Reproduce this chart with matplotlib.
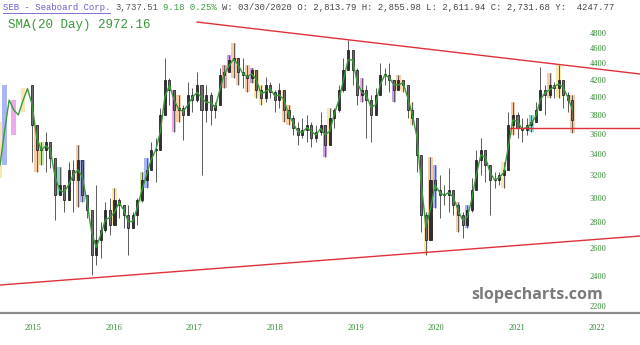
# SEB - Seaboard Corp. grafico semanal con SMA y lineas de tendencia
import numpy as np
import pandas as pd
import matplotlib.pyplot as plt
import matplotlib.dates as mdates

# Precios (maximo, minimo, cierre)
high = [3733, 4149, 4032, 3952, 3975, 4113, 4185, 3830, 3566, 3526,
        3628, 3466, 3349, 3282, 3118, 3330, 3349, 3496, 3136, 3005,
        2846, 3118, 2806, 2971, 3005, 3092, 3005, 2920, 2945, 2887,
        3005, 3236, 3368, 3526, 3566, 3885, 4481, 4233, 3998, 4032,
        3919, 4185, 4113, 4306, 3952, 4149, 4067, 3952, 4356, 4393,
        4520, 4680, 4430, 4481, 4393, 4356, 4306, 4149, 4245, 4185,
        4090, 4173, 4067, 3919, 3808, 3733, 3776, 3808, 3733, 3701,
        3841, 3670, 3885, 3885, 4149, 4481, 4718, 4559, 4356, 4233,
        4149, 4032, 4113, 4418, 4356, 4418, 4185, 4269, 4185, 4032,
        3952, 3733, 3273, 2887, 3378, 3301, 3208, 3118, 3273, 3056,
        2971, 2887, 2945, 3181, 3446, 3566, 3397, 3273, 3236, 3236,
        3330, 3841, 3952, 3841, 3776, 3776, 3808, 3952, 4368, 4149,
        4294, 4185, 4393, 4149, 4067, 4032]
low = [3181, 3670, 3863, 3597, 3808, 3841, 4032, 3330, 3236, 3301,
       3236, 3273, 2822, 3030, 2887, 3005, 2887, 2928, 2971, 2838,
       2411, 2481, 2531, 2726, 2703, 2862, 2838, 2757, 2553, 2757,
       2781, 2971, 3092, 3330, 3145, 3597, 3885, 3919, 3628, 3733,
       3546, 3841, 3841, 3952, 3208, 3733, 3701, 3776, 4149, 4113,
       4356, 4233, 4149, 4113, 4067, 4173, 3998, 3919, 3952, 3998,
       3841, 3885, 3733, 3701, 3597, 3496, 3566, 3526, 3476, 3526,
       3597, 3378, 3496, 3670, 3841, 4067, 4393, 4149, 3919, 3952,
       3566, 3526, 3841, 4032, 4149, 4067, 3952, 4113, 4067, 3776,
       3701, 3236, 2726, 2553, 2781, 2920, 2838, 2945, 2887, 2862,
       2726, 2680, 2757, 2887, 3208, 3208, 3145, 2862, 3092, 3118,
       3092, 3426, 3597, 3566, 3526, 3597, 3628, 3733, 3919, 3808,
       3998, 3998, 3998, 3885, 3841, 3618]
close = [3301, 3975, 3975, 3755, 3863, 4067, 4149, 3701, 3446, 3446,
         3526, 3368, 3030, 3118, 2988, 3255, 3163, 3349, 3030, 2903,
         2553, 2665, 2742, 2903, 2781, 2988, 2945, 2862, 2757, 2862,
         2988, 3163, 3255, 3446, 3446, 3808, 4209, 4090, 3863, 3885,
         3808, 4032, 3975, 4149, 3863, 4032, 3863, 3919, 4269, 4306,
         4456, 4481, 4306, 4269, 4233, 4331, 4090, 3998, 4149, 4067,
         3975, 4090, 3863, 3776, 3670, 3597, 3649, 3701, 3566, 3628,
         3701, 3496, 3776, 3863, 4090, 4331, 4585, 4331, 4032, 4090,
         3975, 3808, 4032, 4269, 4269, 4209, 4090, 4209, 4149, 3863,
         3776, 3397, 2862, 2665, 3163, 3074, 3030, 3030, 3074, 2945,
         2862, 2781, 2903, 3074, 3349, 3446, 3301, 3163, 3163, 3208,
         3255, 3701, 3808, 3670, 3649, 3701, 3733, 3863, 4090, 4032,
         4149, 4113, 4209, 4032, 3975, 3755]

# Barras resaltadas por patrones (indice de barra y color)
marcas_idx = [0, 1, 3, 5, 8, 9, 13, 17, 18, 25, 31, 32, 38, 39, 49, 50, 51,
              52, 54, 55, 56, 57, 62, 63, 71, 72, 79, 86, 87, 88, 90, 93,
              94, 95, 100, 102, 110, 112, 116, 120, 122, 125]
marcas_col = ['y', 'b', 'p', 'y', 'o', 'g', 't', 'o', 'b', 'y', 'g', 'b',
              'p', 'o', 'r', 'u', 'o', 'o', 'o', 'u', 'y', 'y', 'o', 'o',
              'u', 'y', 'p', 'u', 'o', 'y', 'y', 'y', 'o', 'b', 'o', 'b',
              'y', 'o', 't', 'o', 'y', 'o']
colores = {'y': '#f2d060', 'o': '#ee9a55', 'p': '#e050e0', 'b': '#5a6ce8',
           't': '#20b0a0', 'g': '#8ccc30', 'u': '#9a3cc8', 'r': '#e05050'}

# Lineas de tendencia (fecha, precio)
sup_fechas = ['2017-01-13', '2022-07-13']
sup_precios = [4967, 4282]
inf_fechas = ['2014-08-04', '2022-07-13']
inf_precios = [2343, 2695]
hor_fechas = ['2020-12-01', '2022-07-13']
hor_precios = [3669, 3669]

y_ticks = [2200, 2400, 2600, 2800, 3000, 3200, 3400, 3600, 3800,
           4000, 4200, 4400, 4600, 4800]
years = list(range(2015, 2023))

primera_vela = 7  # antes de esta barra solo se ve la media

fechas = pd.date_range('2014-08-04', '2021-09-10', periods=len(close))
x = mdates.date2num(fechas)
close = np.array(close, float)
opn = np.r_[close[0], close[:-1]]
high = np.maximum(np.array(high, float), np.maximum(opn, close))
low = np.minimum(np.array(low, float), np.minimum(opn, close))
sma = pd.Series(close).rolling(2, min_periods=1).mean().values

fig = plt.figure(figsize=(6.4, 3.45), dpi=100)
ax = fig.add_axes([0, 32 / 345, 1, 313 / 345])
ax.set_yscale('log')
ax.set_ylim(2163, 5290)
ax.set_xlim(mdates.date2num(pd.Timestamp('2014-08-04')),
            mdates.date2num(pd.Timestamp('2022-07-13')))

paso = x[1] - x[0]

# resaltados
for i, c in zip(marcas_idx, marcas_col):
    ax.bar(x[i], high[i] - low[i], bottom=low[i], width=paso * 1.0,
           color=colores[c], alpha=0.5, zorder=1, linewidth=0)

# velas
v = slice(primera_vela, None)
xv, ov, cv, hv, lv = x[v], opn[v], close[v], high[v], low[v]
ax.vlines(xv, lv, hv, color='#5a5a5a', linewidth=0.7, zorder=2)
sube = cv >= ov
cuerpo = np.maximum(np.abs(cv - ov), 8)
base = np.minimum(ov, cv)
ax.bar(xv[sube], cuerpo[sube], bottom=base[sube], width=paso * 0.45,
       color='#2f2f2f', edgecolor='#111111', linewidth=0.5, zorder=3)
ax.bar(xv[~sube], cuerpo[~sube], bottom=base[~sube], width=paso * 0.45,
       color='#6e6e6e', edgecolor='#111111', linewidth=0.5, zorder=3)

ax.plot(x, sma, color='#3a9a3a', linewidth=1.0, zorder=4)

# tendencias
for fs, ps in [(sup_fechas, sup_precios), (inf_fechas, inf_precios),
               (hor_fechas, hor_precios)]:
    ax.plot(mdates.date2num(pd.to_datetime(fs)), ps, color='#e0303a',
            linewidth=1.0, zorder=5)

# ejes
for s in ['top', 'left', 'right']:
    ax.spines[s].set_visible(False)
ax.spines['bottom'].set_color('#8a8a8a')
ax.spines['bottom'].set_linewidth(1.6)
ax.yaxis.set_major_locator(plt.NullLocator())
ax.yaxis.set_minor_locator(plt.NullLocator())
ax.set_xticks(mdates.date2num([pd.Timestamp(f'{a}-01-01') for a in years]))
ax.set_xticklabels([str(a) for a in years], color='#2e8b2e',
                   fontfamily='Liberation Serif', fontsize=6)
ax.tick_params(axis='x', length=0, pad=8)
ax.xaxis.set_minor_locator(plt.NullLocator())

trans = ax.get_yaxis_transform()
for t in y_ticks:
    ax.text(598 / 640, t, str(t), transform=trans, ha='center', va='center',
            color='#2e8b2e', fontfamily='Liberation Serif', fontsize=6)

# marca de agua
fig.text(537 / 640, 1 - 295 / 345, 'slopecharts.com', ha='center',
         va='center', fontfamily='Open Sans', fontweight='bold',
         fontsize=11.5, color='#7a7a7a')

# cabecera
fs_head = 6.4
cw = 0.6 * fs_head * 100 / 72
partes = [('SEB - Seaboard Corp.', '#6a5acd', 0),
          ('3,737.51', '#555555', 21),
          ('9.18 0.25%', '#3a9a3a', 30),
          ('W: 03/30/2020 O: 2,813.79 H: 2,855.98 L: 2,611.94 C: 2,731.68 Y:  4247.77',
           '#444444', 41)]
for txt, col, pos in partes:
    fig.text((3 + pos * cw) / 640, 1 - 8 / 345, txt, ha='left', va='center',
             fontfamily='Liberation Mono', fontsize=fs_head, color=col)
fig.add_artist(plt.Line2D([3 / 640, (3 + 20 * cw) / 640],
                          [1 - 13 / 345, 1 - 13 / 345], color='#6a5acd',
                          linewidth=0.6))
fig.text(8 / 640, 1 - 25 / 345, 'SMA(20 Day) 2972.16', ha='left',
         va='center', fontfamily='Liberation Mono', fontsize=9,
         color='#3a9a3a')

fig.savefig('out.png', dpi=100)
